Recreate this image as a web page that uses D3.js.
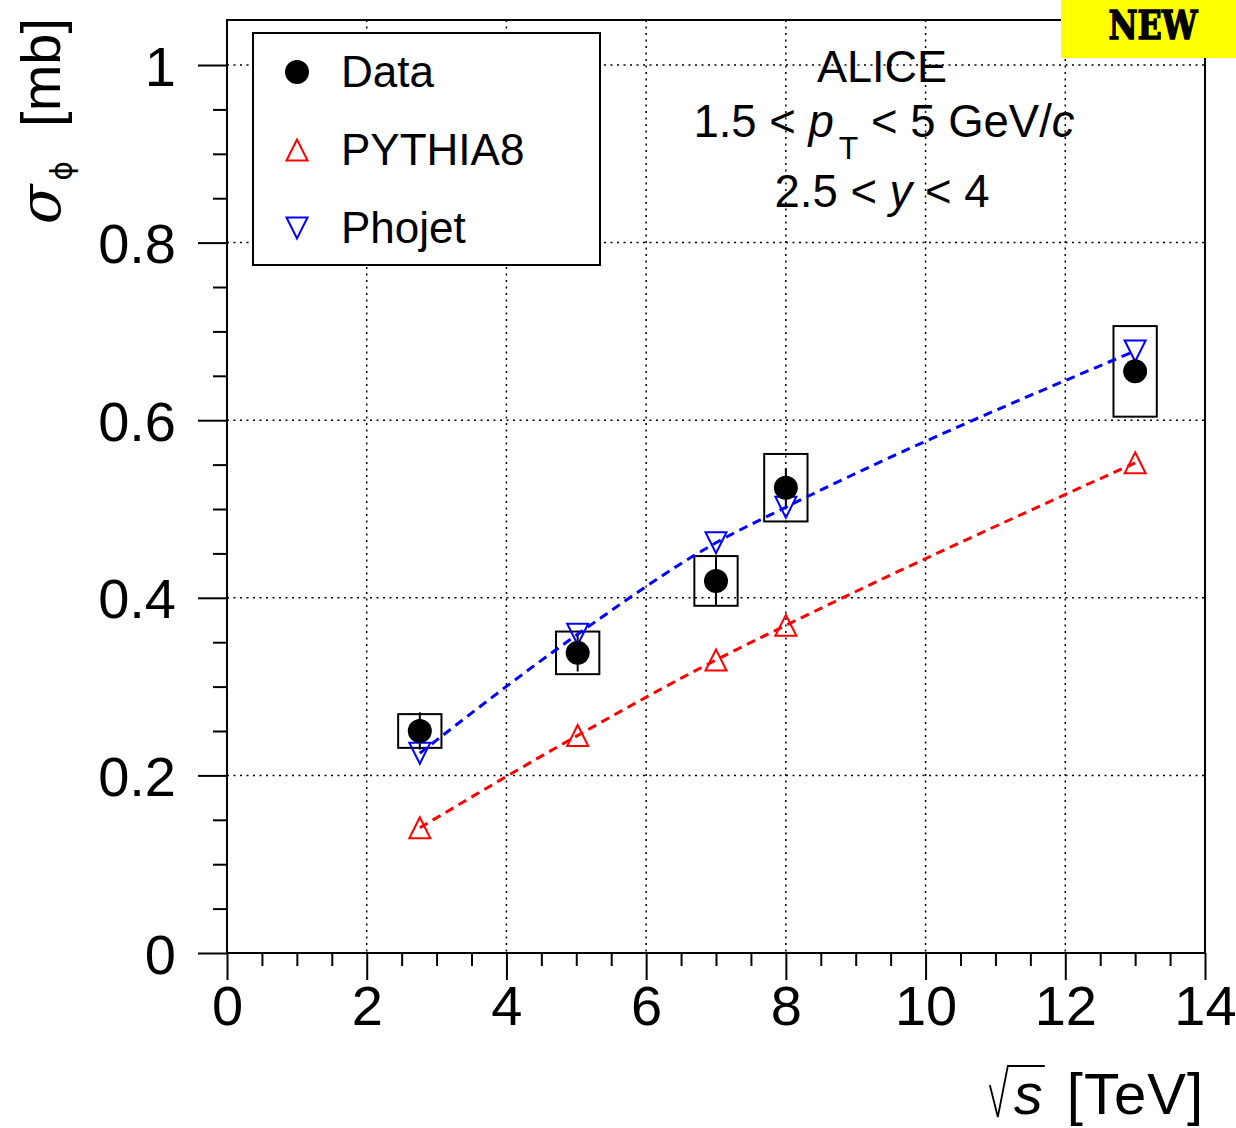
<!DOCTYPE html>
<html>
<head>
<meta charset="utf-8">
<script src="https://cdn.jsdelivr.net/npm/d3@7"></script>
<style>
  body { margin: 0; background: #fff; }
  svg { display: block; }
  text { font-family: "Liberation Sans", Arial, Helvetica, sans-serif; fill: #000; }
</style>
</head>
<body>
<svg id="plot"></svg>
<script>
// sqrt(s) in TeV
const energies = [2.76, 5.02, 7, 8, 13];
// measured cross section [mb]
const dataSigma = [0.250, 0.338, 0.419, 0.524, 0.655];
const dataStat = [0.021, 0.021, 0.028, 0.022, 0.012];
const dataSyst = [0.019, 0.024, 0.028, 0.038, 0.051];
// models
const pythia8 = [0.141, 0.245, 0.330, 0.369, 0.552];
const phojet = [0.225, 0.359, 0.462, 0.502, 0.678];

const xMajor = [0, 2, 4, 6, 8, 10, 12, 14];
const yMajor = [0, 0.2, 0.4, 0.6, 0.8, 1];
const yTickLabels = ['0', '0.2', '0.4', '0.6', '0.8', '1'];
const legendLabels = ['Data', 'PYTHIA8', 'Phojet'];

const W = 1236, H = 1128;
const margin = {top: 20, right: 31, bottom: 175, left: 227};
const width = W - margin.left - margin.right;
const height = H - margin.top - margin.bottom;

const svg = d3.select('#plot').attr('width', W).attr('height', H);
svg.append('rect').attr('width', W).attr('height', H).attr('fill', '#fff');

const x = d3.scaleLinear().domain([0, 14]).range([0, width]);
const y = d3.scaleLinear().domain([0, 1.0507]).range([height, 0]);

const g = svg.append('g').attr('transform', 'translate(' + margin.left + ',' + margin.top + ')');

// dotted grid
g.append('g').selectAll('line.gx')
    .data(xMajor.slice(1, -1))
    .join('line')
    .attr('x1', d => x(d)).attr('x2', d => x(d))
    .attr('y1', 0).attr('y2', height)
    .attr('stroke', '#000').attr('stroke-width', 1.5).attr('stroke-dasharray', '2,4.5');
g.append('g').selectAll('line.gy')
    .data(yMajor.slice(1))
    .join('line')
    .attr('x1', 0).attr('x2', width)
    .attr('y1', d => y(d)).attr('y2', d => y(d))
    .attr('stroke', '#000').attr('stroke-width', 1.5).attr('stroke-dasharray', '2,4.5');

// axes: ticks point outward
const xMinor = d3.range(0, 14.01, 0.5).filter(v => v % 2 !== 0);
const yMinor = d3.range(0, 1.001, 0.05).filter(v => Math.abs(v * 5 - Math.round(v * 5)) > 1e-6);

function styleAxis(sel) {
  sel.select('.domain').remove();
  sel.selectAll('.tick line').attr('stroke', '#000').attr('stroke-width', 2);
}

g.append('g')
    .attr('transform', 'translate(0,' + height + ')')
    .call(d3.axisBottom(x).tickValues(xMinor).tickSize(13).tickFormat(''))
    .call(styleAxis);
g.append('g')
    .attr('transform', 'translate(0,' + height + ')')
    .call(d3.axisBottom(x).tickValues(xMajor).tickSize(27).tickPadding(5).tickFormat(d3.format('d')))
    .call(styleAxis)
    .call(a => a.selectAll('.tick text')
      .attr('font-size', 56)
      .attr('fill', '#000'));

g.append('g')
    .call(d3.axisLeft(y).tickValues(yMinor).tickSize(14).tickFormat(''))
    .call(styleAxis);
g.append('g')
    .call(d3.axisLeft(y).tickValues(yMajor).tickSize(29).tickPadding(22).tickFormat((d, i) => yTickLabels[i]))
    .call(styleAxis)
    .call(a => a.selectAll('.tick text')
      .attr('font-size', 56)
      .attr('dy', '0.36em')
      .attr('fill', '#000'));

// frame
g.append('rect')
    .attr('width', width).attr('height', height)
    .attr('fill', 'none').attr('stroke', '#000').attr('stroke-width', 2);

// systematic boxes
const boxHalf = 0.31;
g.append('g').selectAll('rect')
    .data(energies)
    .join('rect')
    .attr('x', d => x(d - boxHalf))
    .attr('width', (x(boxHalf) - x(0)) * 2)
    .attr('y', (d, i) => y(dataSigma[i] + dataSyst[i]))
    .attr('height', (d, i) => y(dataSigma[i] - dataSyst[i]) - y(dataSigma[i] + dataSyst[i]))
    .attr('fill', 'none').attr('stroke', '#000').attr('stroke-width', 2);

// statistical errors
g.append('g').selectAll('line')
    .data(energies)
    .join('line')
    .attr('x1', d => x(d)).attr('x2', d => x(d))
    .attr('y1', (d, i) => y(dataSigma[i] + dataStat[i]))
    .attr('y2', (d, i) => y(dataSigma[i] - dataStat[i]))
    .attr('stroke', '#000').attr('stroke-width', 2);

// model curves
const line = d3.line()
    .x(d => x(d[0]))
    .y(d => y(d[1]))
    .curve(d3.curveMonotoneX);

const models = [
  {vals: phojet, color: '#0000ff', down: true},
  {vals: pythia8, color: '#ff0000', down: false}
];

const tri = 10.5;
function triPath(down) {
  return down
    ? 'M0,' + tri + 'L' + (-tri) + ',' + (-tri) + 'L' + tri + ',' + (-tri) + 'Z'
    : 'M0,' + (-tri) + 'L' + (-tri) + ',' + tri + 'L' + tri + ',' + tri + 'Z';
}

models.forEach(m => {
  g.append('path')
      .datum(energies.map((e, i) => [e, m.vals[i]]))
      .attr('d', line)
      .attr('fill', 'none')
      .attr('stroke', m.color)
      .attr('stroke-width', 3)
      .attr('stroke-dasharray', '9,6');
  g.append('g').selectAll('path')
      .data(energies)
      .join('path')
      .attr('transform', (d, i) => 'translate(' + x(d) + ',' + y(m.vals[i]) + ')')
      .attr('d', triPath(m.down))
      .attr('fill', 'none')
      .attr('stroke', m.color)
      .attr('stroke-width', 2);
});

// data points
g.append('g').selectAll('circle')
    .data(energies)
    .join('circle')
    .attr('cx', d => x(d))
    .attr('cy', (d, i) => y(dataSigma[i]))
    .attr('r', 12)
    .attr('fill', '#000');

// legend
const legend = svg.append('g').attr('transform', 'translate(253,33)');
legend.append('rect')
    .attr('width', 347).attr('height', 232)
    .attr('fill', '#fff').attr('stroke', '#000').attr('stroke-width', 2);
legendLabels.forEach((lab, i) => {
  const ly = 39 + i * 78;
  if (i === 0) {
    legend.append('circle').attr('cx', 44).attr('cy', ly).attr('r', 12).attr('fill', '#000');
  } else {
    legend.append('path')
        .attr('transform', 'translate(44,' + ly + ')')
        .attr('d', triPath(i === 2))
        .attr('fill', 'none')
        .attr('stroke', i === 1 ? '#ff0000' : '#0000ff')
        .attr('stroke-width', 2);
  }
  legend.append('text')
      .attr('x', 88).attr('y', ly + 15)
      .attr('font-size', 44)
      .text(lab);
});

// ALICE labels
svg.append('text')
    .attr('x', 882).attr('y', 82)
    .attr('text-anchor', 'middle').attr('font-size', 45)
    .text('ALICE');
const t2 = svg.append('text')
    .attr('x', 884).attr('y', 137)
    .attr('text-anchor', 'middle').attr('font-size', 45.5);
t2.append('tspan').text('1.5 < ');
t2.append('tspan').attr('font-style', 'italic').text('p');
t2.append('tspan').attr('font-size', 32).attr('dy', 22).attr('dx', 5).text('T');
t2.append('tspan').attr('dy', -22).text(' < 5 GeV/');
t2.append('tspan').attr('font-style', 'italic').text('c');
const t3 = svg.append('text')
    .attr('x', 882).attr('y', 207)
    .attr('text-anchor', 'middle').attr('font-size', 45.5);
t3.append('tspan').text('2.5 < ');
t3.append('tspan').attr('font-style', 'italic').text('y');
t3.append('tspan').text(' < 4');

// y axis title
const yt = svg.append('text')
    .attr('transform', 'translate(60,18) rotate(-90)')
    .attr('text-anchor', 'end')
    .attr('font-size', 56);
yt.append('tspan').attr('font-style', 'italic')
    .style('font-family', '"DejaVu Serif", "Liberation Serif", serif')
    .attr('font-size', 58).text('σ');
yt.append('tspan')
    .style('font-family', '"DejaVu Sans", sans-serif')
    .attr('font-size', 30).attr('dy', 12).attr('dx', 4).text('ϕ');
yt.append('tspan').attr('dy', -12).attr('dx', 34).text('[mb]');

// x axis title
const xt = svg.append('text')
    .attr('x', 1204).attr('y', 1114)
    .attr('text-anchor', 'end').attr('font-size', 58)
    .style('letter-spacing', '1px')
    .text('[TeV]');
const tevW = xt.node().getComputedTextLength();
const sEnd = 1204 - tevW - 24;
const sText = svg.append('text')
    .attr('x', sEnd).attr('y', 1114)
    .attr('text-anchor', 'end').attr('font-size', 58).attr('font-style', 'italic')
    .text('s');
const sW = sText.node().getComputedTextLength();
const rx0 = sEnd - sW - 10;
svg.append('path')
    .attr('d', 'M' + (rx0 - 14) + ',1085 L' + (rx0 - 6) + ',1117 L' + (rx0 + 4) + ',1066 L' + (sEnd + 2) + ',1066')
    .attr('fill', 'none').attr('stroke', '#000').attr('stroke-width', 1.8);

// NEW badge
svg.append('rect')
    .attr('x', 1061).attr('y', 0).attr('width', 175).attr('height', 58)
    .attr('fill', '#ffff00');
svg.append('text')
    .attr('x', 1153).attr('y', 39)
    .attr('text-anchor', 'middle')
    .style('font-family', '"DejaVu Serif", "Liberation Serif", serif')
    .style('font-weight', 'bold')
    .attr('font-size', 40)
    .attr('stroke', '#000').attr('stroke-width', 1.5)
    .attr('textLength', 89)
    .attr('lengthAdjust', 'spacingAndGlyphs')
    .text('NEW');
</script>
</body>
</html>
